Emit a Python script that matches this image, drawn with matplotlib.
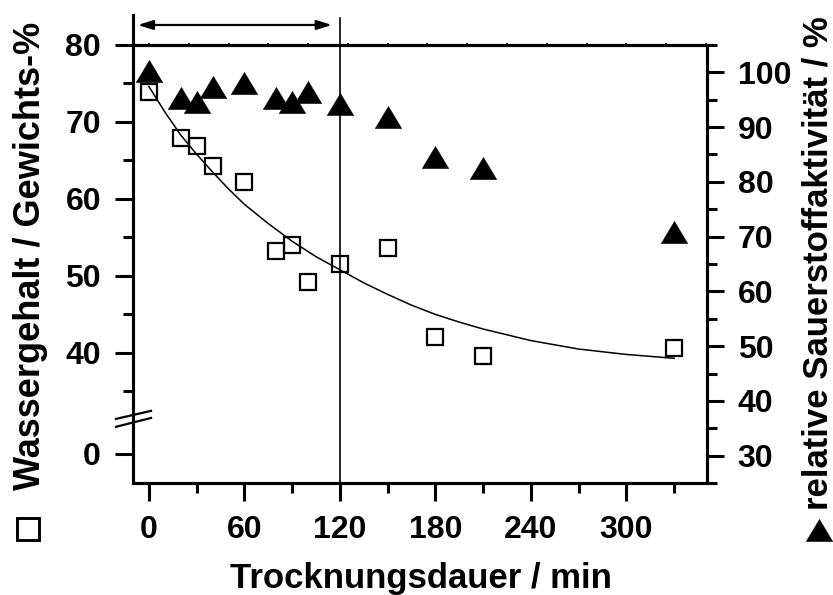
import matplotlib
matplotlib.use("Agg")
import matplotlib.pyplot as plt
import matplotlib.transforms as mtransforms
from matplotlib.lines import Line2D
from matplotlib.path import Path
from matplotlib.patches import Polygon

# ---------------- data ----------------
time_water = [0, 20, 30, 40, 60, 80, 90, 100, 120, 150, 180, 210, 330]
water = [73.9, 67.9, 66.9, 64.3, 62.2, 53.2, 54.0, 49.2, 51.5, 53.6, 42.1, 39.6, 40.6]

time_o2 = [0, 20, 30, 40, 60, 80, 90, 100, 120, 150, 180, 210, 330]
o2_activity = [100.3, 95.4, 94.6, 97.4, 98.1, 95.4, 94.5, 96.4, 94.2, 91.8, 84.5, 82.5, 70.9]

fit_time = [0, 10, 20, 30, 40, 50, 60, 75, 90, 105, 120, 135, 150, 165, 180, 195, 210, 240, 270, 300, 330]
fit_water = [74.6, 71.3, 68.3, 65.8, 63.5, 61.3, 59.3, 56.8, 54.5, 52.5, 50.8, 49.1, 47.6, 46.2, 45.0, 44.0, 43.1, 41.6, 40.5, 39.8, 39.3]

x_major = [0, 60, 120, 180, 240, 300]
x_minor = [30, 90, 150, 210, 270, 330]
x_top = [0, 25, 50, 75, 100, 125, 150, 175, 200, 225, 250, 275, 300, 325, 350]

left_labels = ["0", "40", "50", "60", "70", "80"]
left_values = [40, 50, 60, 70, 80]
left_minor = [35, 45, 55, 65, 75]
right_major = [30, 40, 50, 60, 70, 80, 90, 100]
right_minor = [25, 35, 45, 55, 65, 75, 85, 95, 105]

marker_line_time = 120
arrow_start, arrow_end = -7, 115

# ---------------- layout ----------------
W, H = 833, 595
FONT = "Liberation Sans"
plt.rcParams["font.family"] = [FONT, "DejaVu Sans"]
plt.rcParams["font.weight"] = "bold"

fig = plt.figure(figsize=(W / 100, H / 100), dpi=100)
ax = fig.add_axes([133 / W, 1 - 483 / H, (707 - 133) / W, (483 - 45) / H])
ax2 = ax.twinx()

# left axis uses a break: "0" is drawn at this position below the break
zero_pos = 26.9
break_pos = 31.4
ax.set_xlim(-10, 350.6)
ax.set_ylim(23.1, 80)
ax2.set_ylim(25.2, 105)

lw_spine = 2.2
for a in (ax, ax2):
    for s in a.spines.values():
        s.set_linewidth(lw_spine)

# fit curve
ax.plot(fit_time, fit_water, color="black", lw=1.1, zorder=3)
# water content squares
ax.plot(time_water, water, ls="none", marker="s", ms=11.2, mfc="none",
        mec="black", mew=1.6, zorder=4)

# O2 activity triangles (wide triangle marker)
tri = Path([(0, 0.835), (-1, -0.835), (1, -0.835), (0, 0.835)],
           [Path.MOVETO, Path.LINETO, Path.LINETO, Path.CLOSEPOLY])
ax2.plot(time_o2, o2_activity, ls="none", marker=tri, ms=19.2, mfc="black",
         mec="black", mew=0.3, zorder=4)

# ticks
ax.set_xticks(x_major)
ax.set_xticks(x_minor, minor=True)
ax.set_xticklabels([str(v) for v in x_major])
ax.set_yticks([zero_pos] + left_values)
ax.set_yticklabels(left_labels)
ax.set_yticks(left_minor, minor=True)
ax2.set_yticks(right_major)
ax2.set_yticks(right_minor, minor=True)
ax2.set_yticklabels([str(v) for v in right_major])

tick_fs = 23
ax.tick_params(axis="both", which="major", direction="out", length=13, width=2.2,
               pad=10, labelsize=tick_fs)
ax.tick_params(axis="both", which="minor", direction="out", length=7, width=2.2)
ax.tick_params(axis="x", which="both", top=False)
ax.tick_params(axis="y", which="both", right=False)
ax2.tick_params(axis="x", which="both", top=False, bottom=False)
ax2.tick_params(axis="y", which="major", direction="out", length=12, width=2.2,
                pad=10, labelsize=tick_fs)
ax2.tick_params(axis="y", which="minor", direction="out", length=7, width=2.2)
for lab in ax.get_xticklabels() + ax.get_yticklabels() + ax2.get_yticklabels():
    lab.set_fontweight("bold")

# tiny ticks on the top spine
sec = ax.secondary_xaxis("top")
sec.set_xticks(x_top)
sec.tick_params(axis="x", which="major", direction="inout", length=3, width=1.2,
                labeltop=False)
sec.tick_params(axis="x", which="minor", length=0)
sec.spines["top"].set_linewidth(lw_spine)

# vertical marker line and left spine extension above the frame
ax.axvline(marker_line_time, ymin=0, ymax=1.062, color="black", lw=1.2,
           clip_on=False, zorder=2)
ax.add_line(Line2D([0, 0], [1, 1.0685], transform=ax.transAxes, color="black",
                   lw=lw_spine, clip_on=False))
ax.annotate("", xy=(arrow_end, 1.0457), xytext=(arrow_start, 1.0457),
            xycoords=("data", "axes fraction"), textcoords=("data", "axes fraction"),
            arrowprops=dict(arrowstyle="<|-|>,head_length=0.9,head_width=0.28",
                            color="black", lw=1.6, shrinkA=0, shrinkB=0),
            annotation_clip=False)

# axis break marks on the left spine
bt = mtransforms.blended_transform_factory(ax.transAxes, ax.transData)
x0, x1 = -0.0296, 0.0314
ax.add_patch(Polygon([(x0, break_pos - 1.0), (x1, break_pos + 0.15),
                      (x1, break_pos + 1.07), (x0, break_pos + 0.03)],
                     closed=True, transform=bt, facecolor="white",
                     edgecolor="none", clip_on=False, zorder=5))
for dy0, dy1 in ((0.03, 1.07), (-1.0, 0.15)):
    ax.add_line(Line2D([x0, x1], [break_pos + dy0, break_pos + dy1], transform=bt,
                       color="black", lw=1.6, clip_on=False, zorder=6))

# axis labels
fig.text(421 / W, 1 - 588 / H, "Trocknungsdauer / min", ha="center", va="baseline",
         fontsize=25, fontweight="bold")
fig.text(31 / W, 1 - 255.5 / H, "Wassergehalt / Gewichts-%", rotation=90,
         ha="center", va="center", fontsize=26, fontweight="bold")
fig.text(818 / W, 1 - 263.5 / H, "relative Sauerstoffaktivität / %", rotation=90,
         ha="center", va="center", fontsize=25, fontweight="bold")

# series symbols in front of the axis labels
fig.add_artist(Line2D([27.5 / W], [1 - 529 / H], transform=fig.transFigure,
                      marker="s", ms=15.2, mfc="none", mec="black", mew=2.1))
fig.add_artist(Line2D([818.5 / W], [1 - 530 / H], transform=fig.transFigure,
                      marker=tri, ms=19.2, mfc="black", mec="black", mew=0.3))

fig.savefig("out.png", dpi=100)
